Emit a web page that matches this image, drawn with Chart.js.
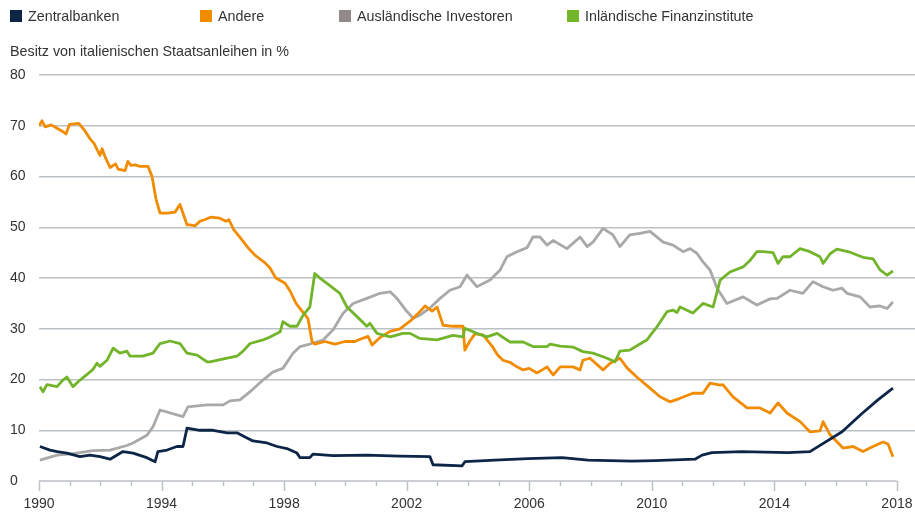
<!DOCTYPE html>
<html lang="de">
<head>
<meta charset="utf-8">
<title>Besitz von italienischen Staatsanleihen</title>
<script src="https://cdn.jsdelivr.net/npm/chart.js@4.4.1/dist/chart.umd.min.js"></script>
<style>
    body { margin: 0; background: #fff; font-family: "Liberation Sans", Arial, sans-serif; }
    #wrap { position: relative; width: 915px; height: 515px; }
    #legende { position: absolute; top: 0; left: 0; width: 915px; height: 30px; }
    .leg-item { position: absolute; top: 8px; font-size: 14.3px; color: #333; line-height: 17px; white-space: nowrap; }
    .leg-box { display: inline-block; width: 12px; height: 12px; margin-right: 6px; vertical-align: -1px; }
</style>
</head>
<body>
<div id="wrap">
    <div id="legende"></div>
    <canvas id="chart" width="915" height="515"></canvas>
</div>
<script>
const zentralbanken = [
    [1990.03, 6.8], [1990.36, 6.1], [1990.59, 5.8], [1990.91, 5.5], [1991.34, 4.8], [1991.66, 5.1],
    [1991.99, 4.8], [1992.32, 4.3], [1992.74, 5.8], [1993.07, 5.5], [1993.52, 4.6], [1993.79, 3.8],
    [1993.88, 5.8], [1994.18, 6.1], [1994.5, 6.8], [1994.7, 6.8], [1994.83, 10.4], [1995.25, 10.0],
    [1995.68, 10.0], [1996.14, 9.5], [1996.46, 9.5], [1996.79, 8.5], [1996.98, 7.9], [1997.44, 7.5],
    [1997.77, 6.8], [1998.09, 6.4], [1998.42, 5.5], [1998.52, 4.6], [1998.84, 4.6], [1998.94, 5.3],
    [1999.6, 5.0], [2000.7, 5.1], [2001.78, 4.9], [2002.76, 4.8], [2002.86, 3.2], [2003.81, 3.0],
    [2003.9, 3.8], [2004.88, 4.1], [2005.96, 4.4], [2007.07, 4.6], [2007.92, 4.1], [2009.35, 3.9],
    [2010.1, 4.0], [2011.41, 4.3], [2011.64, 5.1], [2011.96, 5.6], [2012.94, 5.8], [2014.44, 5.6],
    [2015.16, 5.8], [2016.21, 9.7], [2016.86, 13.3], [2017.38, 16.0], [2017.87, 18.3]
];
const andere = [
    [1990.0, 70.0], [1990.1, 71.0], [1990.2, 69.8], [1990.4, 70.2], [1990.6, 69.5], [1990.8, 68.8],
    [1990.88, 68.4], [1991.0, 70.3], [1991.3, 70.5], [1991.5, 69.0], [1991.66, 67.5], [1991.8, 66.5],
    [1991.99, 64.2], [1992.06, 65.5], [1992.15, 64.0], [1992.32, 61.8], [1992.5, 62.5], [1992.58, 61.5],
    [1992.81, 61.2], [1992.9, 63.0], [1993.0, 62.2], [1993.15, 62.3], [1993.3, 62.0], [1993.56, 62.0],
    [1993.69, 60.0], [1993.82, 55.5], [1993.95, 52.8], [1994.18, 52.8], [1994.44, 53.0], [1994.6, 54.5],
    [1994.83, 50.5], [1994.93, 50.5], [1995.1, 50.3], [1995.25, 51.2], [1995.4, 51.5], [1995.6, 52.0],
    [1995.9, 51.8], [1996.1, 51.2], [1996.2, 51.5], [1996.36, 49.5], [1996.56, 48.0], [1996.82, 46.0],
    [1997.05, 44.5], [1997.38, 43.0], [1997.54, 42.0], [1997.73, 40.0], [1998.03, 39.0], [1998.19, 37.5],
    [1998.39, 35.0], [1998.52, 34.0], [1998.78, 32.0], [1998.91, 27.5], [1999.0, 27.0], [1999.33, 27.5],
    [1999.66, 27.0], [1999.99, 27.5], [2000.31, 27.5], [2000.5, 28.0], [2000.74, 28.5], [2000.87, 26.8],
    [2001.13, 28.3], [2001.46, 29.5], [2001.78, 30.0], [2002.11, 31.5], [2002.37, 33.0], [2002.6, 34.5],
    [2002.83, 33.5], [2002.99, 34.3], [2003.09, 32.5], [2003.19, 30.7], [2003.51, 30.5], [2003.84, 30.5],
    [2003.9, 25.8], [2004.05, 27.5], [2004.23, 29.0], [2004.49, 28.8], [2004.8, 26.5], [2004.95, 25.0],
    [2005.14, 23.8], [2005.37, 23.4], [2005.6, 22.5], [2005.8, 21.9], [2006.0, 22.2], [2006.25, 21.3],
    [2006.45, 22.0], [2006.58, 22.5], [2006.78, 20.9], [2007.01, 22.5], [2007.43, 22.5], [2007.66, 21.9],
    [2007.75, 23.8], [2007.98, 24.2], [2008.41, 21.9], [2008.64, 23.2], [2008.96, 24.2], [2009.19, 22.3],
    [2009.51, 20.5], [2009.94, 18.3], [2010.27, 16.6], [2010.59, 15.6], [2010.92, 16.3], [2011.34, 17.3],
    [2011.67, 17.3], [2011.9, 19.3], [2012.23, 18.9], [2012.32, 19.0], [2012.65, 16.6], [2013.11, 14.4],
    [2013.53, 14.4], [2013.86, 13.4], [2014.12, 15.4], [2014.41, 13.4], [2014.84, 11.7], [2015.16, 9.7],
    [2015.49, 9.9], [2015.59, 11.7], [2015.82, 9.1], [2016.24, 6.5], [2016.57, 6.8], [2016.89, 5.8],
    [2017.22, 6.8], [2017.55, 7.7], [2017.71, 7.3], [2017.87, 4.8]
];
const auslaendisch = [
    [1990.03, 4.1], [1990.59, 5.1], [1991.11, 5.4], [1991.76, 6.0], [1992.32, 6.1], [1992.87, 7.0],
    [1993.07, 7.5], [1993.52, 9.0], [1993.72, 10.7], [1993.95, 14.0], [1994.7, 12.7], [1994.86, 14.6],
    [1995.48, 15.0], [1996.01, 15.0], [1996.23, 15.8], [1996.56, 16.0], [1996.89, 17.6], [1997.31, 19.9],
    [1997.64, 21.5], [1997.96, 22.2], [1998.29, 25.2], [1998.52, 26.5], [1998.84, 27.0], [1999.27, 27.8],
    [1999.6, 29.8], [1999.92, 33.0], [2000.25, 35.0], [2000.7, 36.0], [2001.13, 37.0], [2001.46, 37.3],
    [2001.68, 36.0], [2002.01, 33.4], [2002.21, 32.1], [2002.43, 32.7], [2002.76, 34.1], [2003.09, 36.0],
    [2003.41, 37.6], [2003.74, 38.3], [2003.97, 40.6], [2004.29, 38.3], [2004.72, 39.6], [2005.05, 41.6],
    [2005.27, 44.2], [2005.6, 45.2], [2005.93, 46.0], [2006.12, 48.1], [2006.35, 48.1], [2006.58, 46.5],
    [2006.78, 47.4], [2007.23, 45.8], [2007.66, 48.1], [2007.89, 46.2], [2008.08, 47.1], [2008.41, 49.8],
    [2008.73, 48.5], [2008.96, 46.2], [2009.28, 48.5], [2009.61, 48.8], [2009.94, 49.2], [2010.37, 47.1],
    [2010.69, 46.5], [2011.02, 45.2], [2011.25, 45.8], [2011.47, 44.9], [2011.67, 43.2], [2011.9, 41.6],
    [2012.13, 38.0], [2012.45, 35.0], [2012.98, 36.3], [2013.43, 34.7], [2013.86, 35.9], [2014.09, 36.0],
    [2014.51, 37.6], [2014.93, 37.0], [2015.26, 39.3], [2015.59, 38.3], [2015.91, 37.6], [2016.21, 38.0],
    [2016.37, 37.0], [2016.8, 36.3], [2017.12, 34.3], [2017.45, 34.5], [2017.68, 34.0], [2017.87, 35.3]
];
const inlaendisch = [
    [1990.03, 18.6], [1990.13, 17.6], [1990.26, 19.0], [1990.59, 18.6], [1990.78, 19.9], [1990.91, 20.5],
    [1991.11, 18.6], [1991.34, 19.9], [1991.57, 21.0], [1991.76, 22.0], [1991.89, 23.2], [1991.99, 22.6],
    [1992.22, 23.8], [1992.42, 26.2], [1992.64, 25.2], [1992.87, 25.6], [1992.97, 24.6], [1993.39, 24.6],
    [1993.72, 25.2], [1993.95, 27.1], [1994.28, 27.6], [1994.6, 27.1], [1994.83, 25.2], [1995.16, 24.8],
    [1995.48, 23.5], [1995.58, 23.5], [1996.14, 24.2], [1996.46, 24.6], [1996.66, 25.6], [1996.89, 27.1],
    [1997.31, 27.8], [1997.54, 28.4], [1997.87, 29.4], [1997.96, 31.4], [1998.19, 30.5], [1998.42, 30.5],
    [1998.62, 32.7], [1998.84, 34.3], [1999.0, 40.9], [1999.17, 40.0], [1999.6, 38.0], [1999.82, 37.0],
    [2000.05, 34.3], [2000.38, 32.4], [2000.7, 30.5], [2000.8, 31.1], [2001.03, 29.1], [2001.46, 28.4],
    [2001.88, 29.1], [2002.11, 29.1], [2002.43, 28.1], [2002.99, 27.8], [2003.51, 28.7], [2003.84, 28.4],
    [2003.9, 30.1], [2004.29, 29.1], [2004.62, 28.4], [2004.95, 29.1], [2005.37, 27.4], [2005.8, 27.4],
    [2006.12, 26.5], [2006.58, 26.5], [2006.68, 27.0], [2007.01, 26.6], [2007.43, 26.4], [2007.75, 25.5],
    [2008.08, 25.2], [2008.54, 24.2], [2008.8, 23.5], [2008.96, 25.6], [2009.28, 25.8], [2009.61, 27.0],
    [2009.84, 27.8], [2010.0, 29.1], [2010.17, 30.4], [2010.5, 33.4], [2010.69, 33.7], [2010.82, 33.2],
    [2010.92, 34.3], [2011.34, 33.1], [2011.67, 35.0], [2012.0, 34.3], [2012.23, 39.6], [2012.55, 41.2],
    [2012.98, 42.2], [2013.21, 43.5], [2013.43, 45.2], [2013.63, 45.2], [2013.96, 45.0], [2014.12, 42.9],
    [2014.28, 44.2], [2014.51, 44.2], [2014.84, 45.8], [2015.16, 45.2], [2015.49, 44.2], [2015.59, 42.9],
    [2015.82, 44.8], [2016.04, 45.7], [2016.47, 45.1], [2016.89, 44.1], [2017.22, 43.8], [2017.45, 41.6],
    [2017.68, 40.6], [2017.87, 41.4]
];

const serienNamen = ["Zentralbanken", "Andere", "Ausländische Investoren", "Inländische Finanzinstitute"];
const tickJahre = [1990, 1994, 1998, 2002, 2006, 2010, 2014, 2018];
const yTicks = [0, 10, 20, 30, 40, 50, 60, 70, 80];

// Farben
const linienFarben = ["#0d2547", "#f18b00", "#a9a9a9", "#72b42a"];
const legendenFarben = ["#0d2547", "#f18b00", "#928a88", "#72b42a"];
const gitterFarbe = "#bcc1c6";
const schrift = '"Liberation Sans", Arial, sans-serif';

// HTML-Legende (feste Spaltenpositionen wie im Original)
const legendeLinks = [10, 200, 339, 567];
const legende = document.getElementById("legende");
serienNamen.forEach((name, i) => {
    const item = document.createElement("div");
    item.className = "leg-item";
    item.style.left = legendeLinks[i] + "px";
    item.innerHTML = `<span class="leg-box" style="background:${legendenFarben[i]}"></span>${name}`;
    legende.appendChild(item);
});

const toPoints = arr => arr.map(([x, y]) => ({ x, y }));

// Grundlinie und Jahres-Striche unter der x-Achse
const achsenPlugin = {
    id: "achsenStriche",
    beforeDatasetsDraw(chart) {
        const { ctx, scales: { x, y } } = chart;
        const y0 = y.getPixelForValue(0);
        ctx.save();
        ctx.strokeStyle = gitterFarbe;
        ctx.lineWidth = 1.5;
        ctx.beginPath();
        ctx.moveTo(x.getPixelForValue(1990), y0);
        ctx.lineTo(x.getPixelForValue(2018), y0);
        for (let j = 1990; j <= 2018; j++) {
            const px = Math.round(x.getPixelForValue(j)) + 0.5;
            const lang = (j - 1990) % 4 === 0 ? 10 : 5;
            ctx.moveTo(px, y0);
            ctx.lineTo(px, y0 + lang);
        }
        ctx.stroke();
        ctx.restore();
    }
};

const ctx = document.getElementById("chart").getContext("2d");
new Chart(ctx, {
    type: "line",
    data: {
        datasets: [zentralbanken, andere, auslaendisch, inlaendisch].map((werte, i) => ({
            label: serienNamen[i],
            data: toPoints(werte),
            borderColor: linienFarben[i],
            backgroundColor: linienFarben[i],
            borderWidth: 2.8,
            pointRadius: 0,
            tension: 0,
            borderJoinStyle: "round",
            order: [0, 2, 3, 1][i]
        }))
    },
    options: {
        responsive: false,
        animation: false,
        layout: { padding: { left: 10, top: 43, right: 0, bottom: 0 } },
        scales: {
            x: {
                type: "linear",
                min: 1990,
                max: 2018.59,
                afterBuildTicks: axis => { axis.ticks = tickJahre.map(v => ({ value: v })); },
                afterFit: scale => {
                    scale.height = 34;
                    scale.paddingLeft = 0;
                    scale.paddingRight = 0;
                },
                grid: { display: false },
                border: { display: false },
                ticks: {
                    autoSkip: false,
                    maxRotation: 0,
                    padding: 7,
                    color: "#333",
                    font: { family: schrift, size: 14 },
                    callback: v => String(v)
                }
            },
            y: {
                min: 0,
                max: 80,
                afterBuildTicks: axis => { axis.ticks = yTicks.map(v => ({ value: v })); },
                afterFit: scale => { scale.width = 29; },
                grid: {
                    color: c => (c.tick && c.tick.value === 0) ? "rgba(0,0,0,0)" : gitterFarbe,
                    lineWidth: 1.5,
                    drawTicks: false
                },
                border: { display: false },
                ticks: {
                    crossAlign: "far",
                    padding: 0,
                    color: "#333",
                    font: { family: schrift, size: 14 }
                }
            }
        },
        plugins: {
            legend: { display: false },
            tooltip: { enabled: false },
            title: {
                display: true,
                text: "Besitz von italienischen Staatsanleihen in %",
                align: "start",
                color: "#333",
                font: { family: schrift, size: 14.3, weight: "normal" },
                padding: { top: 0, bottom: 15 }
            }
        }
    },
    plugins: [achsenPlugin]
});
</script>
</body>
</html>
